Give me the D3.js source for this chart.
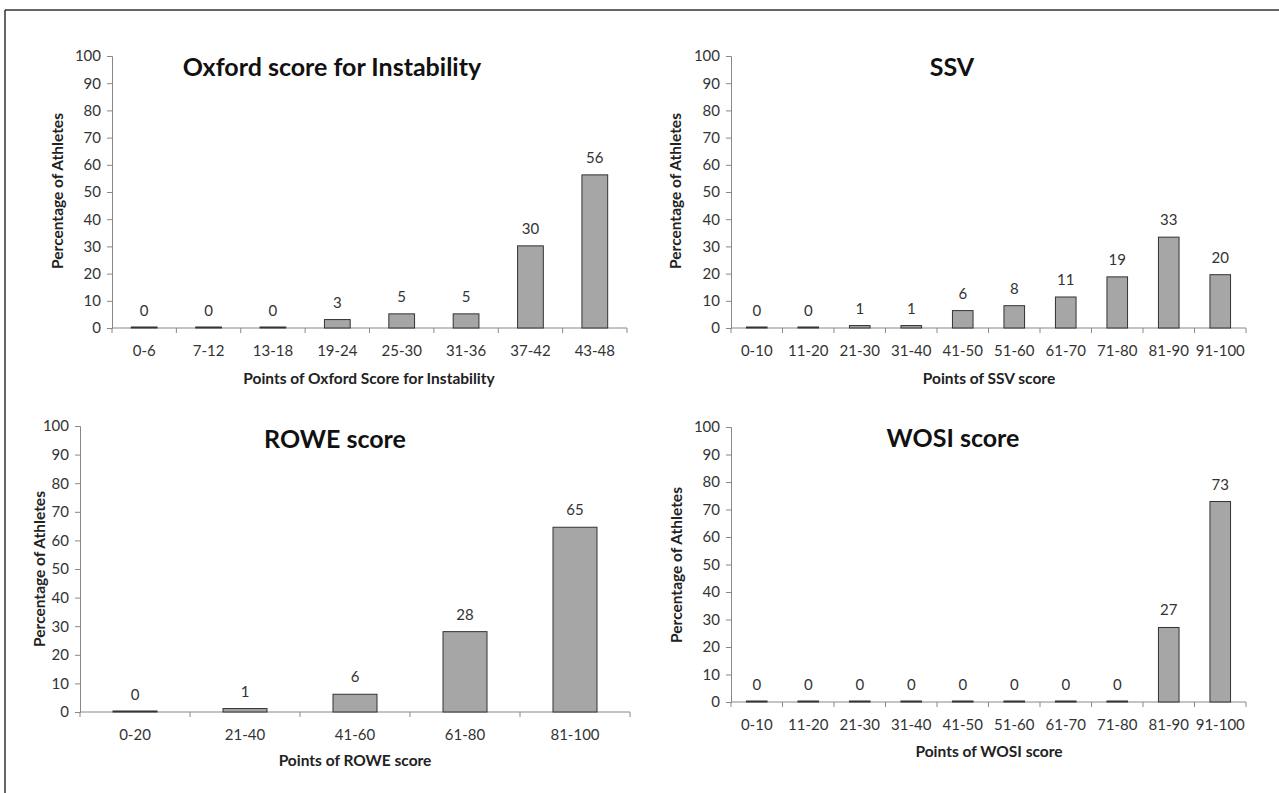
<!DOCTYPE html>
<html>
<head>
<meta charset="utf-8">
<script src="https://cdn.jsdelivr.net/npm/d3@7/dist/d3.min.js"></script>
<style>
  html, body { margin: 0; padding: 0; background: #fff; }
  svg { display: block; }
  text { font-family: Lato, "Open Sans", "Liberation Sans", sans-serif; }
</style>
</head>
<body>
<svg id="chart" width="1279" height="793"></svg>
<script>
// ---- Data ----
const oxfordCategories = ["0-6", "7-12", "13-18", "19-24", "25-30", "31-36", "37-42", "43-48"];
const oxfordValues = [0, 0, 0, 3.1, 5.2, 5.2, 30.2, 56.3];

const ssvCategories = ["0-10", "11-20", "21-30", "31-40", "41-50", "51-60", "61-70", "71-80", "81-90", "91-100"];
const ssvValues = [0, 0, 0.9, 0.9, 6.4, 8.2, 11.4, 18.8, 33.4, 19.6];

const roweCategories = ["0-20", "21-40", "41-60", "61-80", "81-100"];
const roweValues = [0, 1.2, 6.2, 28.1, 64.6];

const wosiCategories = ["0-10", "11-20", "21-30", "31-40", "41-50", "51-60", "61-70", "71-80", "81-90", "91-100"];
const wosiValues = [0, 0, 0, 0, 0, 0, 0, 0, 27.1, 72.9];

const yTicks = [0, 10, 20, 30, 40, 50, 60, 70, 80, 90, 100];
const yAxisTitle = "Percentage of Athletes";

const panels = [
  { title: "Oxford score for Instability", xTitle: "Points of Oxford Score for Instability",
    cats: oxfordCategories, vals: oxfordValues,
    x0: 112, x1: 627, yZero: 328, yTop: 56, titleX: 332, titleY: 76, xTitleX: 369, xTitleY: 384, yTitleX: 63, yTitleY: 191 },
  { title: "SSV", xTitle: "Points of SSV score",
    cats: ssvCategories, vals: ssvValues,
    x0: 731, x1: 1246, yZero: 328, yTop: 56, titleX: 952, titleY: 76, xTitleX: 989, xTitleY: 384, yTitleX: 681, yTitleY: 191 },
  { title: "ROWE score", xTitle: "Points of ROWE score",
    cats: roweCategories, vals: roweValues,
    x0: 80, x1: 630, yZero: 712, yTop: 426, titleX: 335, titleY: 448, xTitleX: 355, xTitleY: 766, yTitleX: 45, yTitleY: 569 },
  { title: "WOSI score", xTitle: "Points of WOSI score",
    cats: wosiCategories, vals: wosiValues,
    x0: 731, x1: 1246, yZero: 702, yTop: 427, titleX: 953, titleY: 447, xTitleX: 989, xTitleY: 757, yTitleX: 682, yTitleY: 565 }
];

const svg = d3.select("#chart");

// outer frame (top and left edges)
svg.append("line").attr("x1", 5).attr("x2", 1279).attr("y1", 10).attr("y2", 10)
  .attr("stroke", "#333").attr("stroke-width", 1.5);
svg.append("line").attr("x1", 5).attr("x2", 5).attr("y1", 10).attr("y2", 793)
  .attr("stroke", "#333").attr("stroke-width", 1.5);

panels.forEach(p => {
  const g = svg.append("g");
  const x = d3.scaleBand().domain(p.cats).range([p.x0, p.x1]).paddingInner(0.6).paddingOuter(0.3);
  const y = d3.scaleLinear().domain([0, 100]).range([p.yZero, p.yTop]);

  // y axis
  const yAxis = g.append("g").attr("transform", `translate(${p.x0},0)`)
    .call(d3.axisLeft(y).tickValues(yTicks).tickSize(5).tickPadding(6));
  yAxis.select(".domain").attr("stroke", "#888");
  yAxis.selectAll(".tick line").attr("stroke", "#888");
  yAxis.selectAll(".tick text").attr("fill", "#333").style("font-size", "15px")
    .style("font-family", "Lato, 'Open Sans', sans-serif");

  // x axis: line plus ticks at band boundaries
  g.append("line").attr("x1", p.x0).attr("x2", p.x1).attr("y1", p.yZero).attr("y2", p.yZero)
    .attr("stroke", "#888");
  const edges = d3.range(p.cats.length + 1).map(i => p.x0 + i * x.step());
  g.selectAll(".xtick").data(edges).join("line").attr("class", "xtick")
    .attr("x1", d => d).attr("x2", d => d).attr("y1", p.yZero).attr("y2", p.yZero + 5)
    .attr("stroke", "#888");
  g.selectAll(".xlab").data(p.cats).join("text").attr("class", "xlab")
    .attr("x", d => x(d) + x.bandwidth() / 2).attr("y", p.yZero + 28)
    .attr("text-anchor", "middle").attr("fill", "#333").style("font-size", "15px")
    .text(d => d);

  // bars
  g.selectAll(".bar").data(p.vals).join("rect").attr("class", "bar")
    .attr("x", (d, i) => x(p.cats[i]))
    .attr("width", x.bandwidth())
    .attr("y", d => Math.min(y(d), p.yZero - 1))
    .attr("height", d => Math.max(1, p.yZero - y(d)))
    .attr("fill", "#a6a6a6").attr("stroke", "#333").attr("stroke-width", 1);

  // value labels
  g.selectAll(".vlab").data(p.vals).join("text").attr("class", "vlab")
    .attr("x", (d, i) => x(p.cats[i]) + x.bandwidth() / 2)
    .attr("y", d => y(d) - 12)
    .attr("text-anchor", "middle").attr("fill", "#333").style("font-size", "15px")
    .text(d => Math.round(d));

  // titles
  g.append("text").attr("x", p.titleX).attr("y", p.titleY).attr("text-anchor", "middle")
    .attr("fill", "#111").style("font-size", "25px").style("font-weight", "bold").text(p.title);
  g.append("text").attr("x", p.xTitleX).attr("y", p.xTitleY).attr("text-anchor", "middle")
    .attr("fill", "#222").style("font-size", "15.5px").style("font-weight", "bold").text(p.xTitle);
  g.append("text").attr("transform", `translate(${p.yTitleX},${p.yTitleY}) rotate(-90)`)
    .attr("text-anchor", "middle").attr("fill", "#222").style("font-size", "15.5px")
    .style("font-weight", "bold").text(yAxisTitle);
});
</script>
</body>
</html>
